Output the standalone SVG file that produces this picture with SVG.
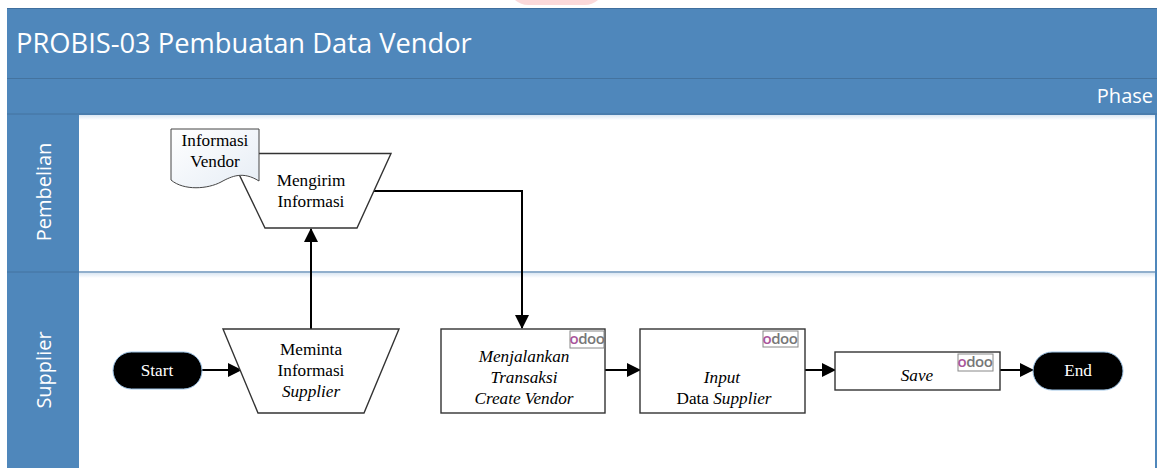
<svg xmlns="http://www.w3.org/2000/svg" width="1157" height="468" viewBox="0 0 1157 468">
<defs>
<style>
.sans{font-family:"Open Sans","Noto Sans",sans-serif;fill:#fff}
.t{font-family:"Liberation Serif",serif;font-size:17.2px;fill:#000;text-anchor:middle}
.i{font-style:italic}
.w{fill:#fff}
.shape{fill:#fff;stroke:#333;stroke-width:1.4}
.term{fill:#000;stroke:#9cc3e6;stroke-width:1}
.conn{fill:none;stroke:#000;stroke-width:2}
.logo{fill:#fff;stroke:#888;stroke-width:1}
.odoo{font-family:"Open Sans","Noto Sans",sans-serif;font-size:15px;font-weight:600;fill:#777;text-anchor:middle;letter-spacing:-.4px}
.p{fill:#a9559b}
</style>
<marker id="arrow" markerUnits="userSpaceOnUse" markerWidth="14" markerHeight="14" refX="13" refY="7" orient="auto"><path d="M0 0L14 7L0 14Z" fill="#000"/></marker>
<linearGradient id="doc" x1="0" y1="0" x2="1" y2="1"><stop offset="0" stop-color="#fff"/><stop offset="1" stop-color="#e6edf5"/></linearGradient>
<linearGradient id="sh" x1="0" y1="0" x2="0" y2="1"><stop offset="0" stop-color="#dbe7f3"/><stop offset="1" stop-color="#fff"/></linearGradient>
</defs>
<rect width="1157" height="468" fill="#fff"/>
<path d="M515 0H598Q592 5 585 5H528Q521 5 515 0Z" fill="#fbd9da"/>
<g id="frame">
<rect x="7" y="8" width="1150" height="460" fill="#4f87bb"/>
<rect x="7" y="8" width="1150" height="1" fill="#3f6f9e"/>
<rect x="79" y="115" width="1076" height="353" fill="#fff"/>
<rect x="79" y="115" width="1076" height="5" fill="url(#sh)"/>
<rect x="79" y="273" width="1076" height="5" fill="url(#sh)"/>
<line x1="7" y1="78.500" x2="1157" y2="78.500" stroke="#44739f" stroke-width="1"/>
<line x1="7" y1="114" x2="1157" y2="114" stroke="#44739f" stroke-width="1"/>
<line x1="7" y1="272" x2="79" y2="272" stroke="#44739f" stroke-width="1"/>
<line x1="79" y1="272" x2="1155" y2="272" stroke="#6c95bb" stroke-width="1.500"/>
<text class="sans" x="16" y="53" font-size="27.300">PROBIS-03 Pembuatan Data Vendor</text>
<text class="sans" x="1153" y="103" font-size="20" text-anchor="end">Phase</text>
<text class="sans" font-size="20" text-anchor="middle" transform="translate(51 192) rotate(-90)">Pembelian</text>
<text class="sans" font-size="20" text-anchor="middle" transform="translate(51 370) rotate(-90)">Supplier</text>
</g>
<g id="connectors">
<path class="conn" d="M202 370H241" marker-end="url(#arrow)"/>
<path class="conn" d="M311 329V229" marker-end="url(#arrow)"/>
<path class="conn" d="M373 191H522V328" marker-end="url(#arrow)"/>
<path class="conn" d="M605 370H640" marker-end="url(#arrow)"/>
<path class="conn" d="M805 370H835" marker-end="url(#arrow)"/>
<path class="conn" d="M1000 370H1033" marker-end="url(#arrow)"/>
</g>
<g id="node-mengirim">
<path class="shape" d="M229 153.500H391L357 228H265Z"/>
<text class="t" x="311" y="186">Mengirim</text>
<text class="t" x="311" y="207">Informasi</text>
</g>
<g id="node-informasi-vendor">
<path d="M171 129H259V181C243 171 232 176 221 182C208 189 184 191 171 180Z" fill="url(#doc)" stroke="#444" stroke-width="1"/>
<text class="t" x="215" y="146">Informasi</text>
<text class="t" x="215" y="167">Vendor</text>
</g>
<g id="node-start">
<rect class="term" x="113" y="352" width="89" height="37" rx="18.500"/>
<text class="t w" x="157" y="376">Start</text>
</g>
<g id="node-meminta">
<path class="shape" d="M223 329H399L364 413H258Z"/>
<text class="t" x="311" y="355">Meminta</text>
<text class="t" x="311" y="376">Informasi</text>
<text class="t i" x="311" y="397">Supplier</text>
</g>
<g id="node-menjalankan">
<rect class="shape" x="441" y="329" width="164" height="84"/>
<text class="t i" x="524" y="362">Menjalankan</text>
<text class="t i" x="524" y="383">Transaksi</text>
<text class="t i" x="524" y="404">Create Vendor</text>
<rect class="logo" x="570" y="331" width="34" height="17"/>
<text class="odoo" x="587" y="344"><tspan class="p">o</tspan>doo</text>
</g>
<g id="node-input">
<rect class="shape" x="640" y="329" width="165" height="84"/>
<text class="t i" x="722" y="383">Input</text>
<text class="t" x="724" y="404">Data <tspan class="i">Supplier</tspan></text>
<rect class="logo" x="763" y="331" width="35" height="16"/>
<text class="odoo" x="780" y="344"><tspan class="p">o</tspan>doo</text>
</g>
<g id="node-save">
<rect class="shape" x="835" y="352" width="165" height="38"/>
<text class="t i" x="917" y="381">Save</text>
<rect class="logo" x="958" y="354" width="35" height="17"/>
<text class="odoo" x="975" y="367"><tspan class="p">o</tspan>doo</text>
</g>
<g id="node-end">
<rect class="term" x="1033" y="352" width="90" height="38" rx="19"/>
<text class="t w" x="1078" y="376">End</text>
</g>
</svg>
